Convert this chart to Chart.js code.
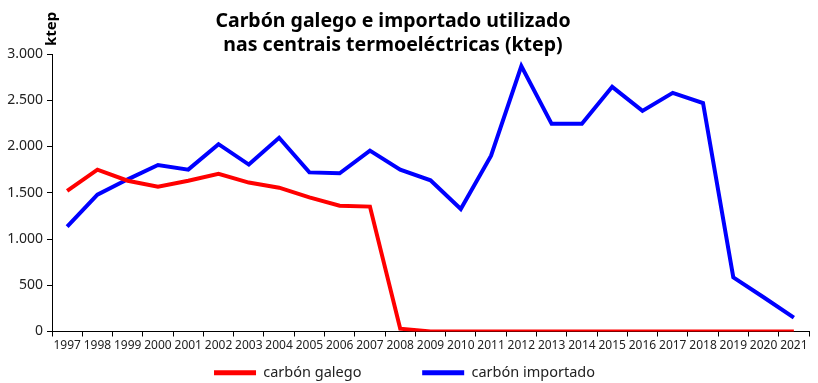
<!DOCTYPE html>
<html>
<head>
<meta charset="utf-8">
<script src="https://cdn.jsdelivr.net/npm/chart.js@4/dist/chart.umd.min.js"></script>
<style>
	html, body { margin: 0; padding: 0; background: #fff; }
	#wrap { width: 818px; height: 383px; position: relative; }
</style>
</head>
<body>
<div id="wrap"><canvas id="myChart"></canvas></div>
<script>
'use strict';

const years = [
	'1997', '1998', '1999', '2000', '2001', '2002', '2003', '2004', '2005',
	'2006', '2007', '2008', '2009', '2010', '2011', '2012', '2013', '2014',
	'2015', '2016', '2017', '2018', '2019', '2020', '2021',
];

const carbonGalego = [
	1520, 1750, 1630, 1565, 1630, 1705, 1610, 1555, 1450,
	1360, 1350, 30, 0, 0, 0, 0, 0, 0,
	0, 0, 0, 0, 0, 0, 0,
];

const carbonImportado = [
	1135, 1480, 1645, 1800, 1750, 2025, 1805, 2095, 1720,
	1710, 1955, 1750, 1635, 1325, 1900, 2870, 2245, 2245,
	2645, 2385, 2580, 2470, 585, 370, 150,
];

const yTicks = [0, 500, 1000, 1500, 2000, 2500, 3000];

const titleLines = [
	'Carbón galego e importado utilizado',
	'nas centrais termoeléctricas (ktep)',
];

const FONT = "'Noto Sans', sans-serif";

// title and the rotated unit label drawn on the canvas
const textPlugin = {
	id: 'textPlugin',
	afterDraw(chart) {
		const ctx = chart.ctx;
		ctx.save();
		ctx.fillStyle = '#000';
		ctx.textAlign = 'center';
		ctx.textBaseline = 'alphabetic';
		ctx.font = 'bold 19.5px ' + FONT;
		ctx.fillText(titleLines[0], 393, 27);
		ctx.fillText(titleLines[1], 393, 51);

		ctx.translate(56, 29);
		ctx.rotate(-Math.PI / 2);
		ctx.font = 'bold 15px ' + FONT;
		ctx.fillText('ktep', 0, 0);
		ctx.restore();
	},
};

generateGraph();

function generateGraph() {
	const datasets = [
		makeDataset('carbón galego', carbonGalego, '#ff0000'),
		makeDataset('carbón importado', carbonImportado, '#0000ff'),
	];
	displayGraph({ labels: years, datasets });
}

function makeDataset(label, data, color) {
	return {
		label,
		data,
		borderColor: color,
		backgroundColor: color,
		borderWidth: 4,
		pointRadius: 0,
		tension: 0,
		borderJoinStyle: 'miter',
	};
}

// legend items: plain thick line sample, wider gap after the first one
function legendLabels(chart) {
	const items = Chart.defaults.plugins.legend.labels.generateLabels(chart);
	return items.map((item, i) => ({
		...item,
		lineWidth: 0,
		text: i === 0 ? item.text + '\u2002'.repeat(7) : item.text,
	}));
}

function displayGraph({ labels, datasets }) {
	const ctx = document.getElementById('myChart').getContext('2d');
	new Chart(ctx, {
		type: 'line',
		data: { labels, datasets },
		plugins: [textPlugin],
		options: {
			responsive: true,
			maintainAspectRatio: false,
			animation: false,
			layout: { padding: { top: 54, right: 9, left: 0, bottom: -7 } },
			plugins: {
				title: { display: false },
				tooltip: { enabled: false },
				legend: {
					position: 'bottom',
					labels: {
						boxWidth: 42,
						boxHeight: 5,
						padding: 10,
						color: '#222',
						font: { family: FONT, size: 14.5 },
						generateLabels: legendLabels,
					},
				},
			},
			scales: {
				x: {
					offset: true,
					afterFit: (scale) => { scale.height = 24; },
					grid: {
						offset: true,
						drawOnChartArea: false,
						tickLength: 5,
						color: '#000',
					},
					border: { color: '#000', width: 1 },
					ticks: {
						autoSkip: false,
						maxRotation: 0,
						minRotation: 0,
						padding: 2,
						color: '#222',
						font: { family: FONT, size: 12 },
					},
				},
				y: {
					min: 0,
					max: 3000,
					afterFit: (scale) => { scale.width = 52; },
					afterBuildTicks: (scale) => {
						scale.ticks = yTicks.map((v) => ({ value: v }));
					},
					grid: {
						drawOnChartArea: false,
						tickLength: 5,
						color: '#000',
					},
					border: { color: '#000', width: 1 },
					ticks: {
						padding: 4,
						color: '#222',
						font: { family: FONT, size: 14 },
						callback: (v) => v.toLocaleString('de-DE'),
					},
				},
			},
		},
	});
}
</script>
</body>
</html>
